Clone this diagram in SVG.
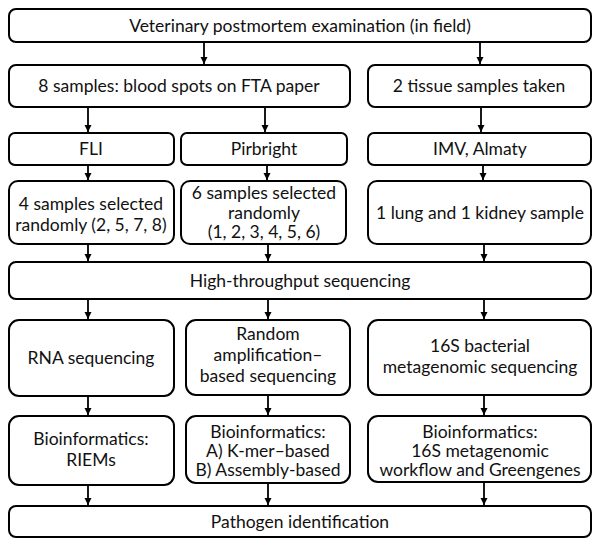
<svg xmlns="http://www.w3.org/2000/svg" width="600" height="545" viewBox="0 0 600 545">
<defs>
<style>
.b{fill:#fff;stroke:#000;stroke-width:2}
text{font-family:Lato,"Open Sans","Liberation Sans",sans-serif;font-size:17.5px;fill:#111;text-anchor:middle}
.c line{stroke:#000;stroke-width:1.8}
</style>
<marker id="ah" markerWidth="8" markerHeight="8" refX="7" refY="4" orient="auto" markerUnits="userSpaceOnUse">
<path d="M0,0.5 L7,4 L0,7.5 Z" fill="#000"/>
</marker>
</defs>
<rect width="600" height="545" fill="#fff"/>
<g id="n1"><rect class="b" x="9" y="9" width="582" height="33" rx="7"/><text x="300" y="32">Veterinary postmortem examination (in field)</text></g>
<g id="n2a"><rect class="b" x="9" y="65" width="341" height="42" rx="7"/><text x="179" y="92">8 samples: blood spots on FTA paper</text></g>
<g id="n2b"><rect class="b" x="368" y="65" width="223" height="42" rx="7"/><text x="479" y="92">2 tissue samples taken</text></g>
<g id="n3a"><rect class="b" x="9" y="133" width="165" height="32" rx="6"/><text x="91" y="155">FLI</text></g>
<g id="n3b"><rect class="b" x="181" y="133" width="166" height="32" rx="6"/><text x="264" y="155">Pirbright</text></g>
<g id="n3c"><rect class="b" x="368" y="133" width="223" height="32" rx="6"/><text x="480" y="155">IMV, Almaty</text></g>
<g id="n4a"><rect class="b" x="9" y="181" width="165" height="63" rx="9"/><text x="91" y="210">4 samples selected</text><text x="91" y="231">randomly (2, 5, 7, 8)</text></g>
<g id="n4b"><rect class="b" x="181" y="181" width="165" height="63" rx="9"/><text x="264" y="199">6 samples selected</text><text x="264" y="219">randomly</text><text x="264" y="238">(1, 2, 3, 4, 5, 6)</text></g>
<g id="n4c"><rect class="b" x="368" y="181" width="223" height="63" rx="9"/><text x="480" y="219">1 lung and 1 kidney sample</text></g>
<g id="n5"><rect class="b" x="9" y="262" width="582" height="37" rx="7"/><text x="300" y="287">High-throughput sequencing</text></g>
<g id="n6a"><rect class="b" x="9" y="320" width="165" height="76" rx="10"/><text x="91" y="364">RNA sequencing</text></g>
<g id="n6b"><rect class="b" x="186" y="320" width="164" height="75" rx="10"/><text x="268" y="340">Random</text><text x="268" y="361">amplification–</text><text x="268" y="382">based sequencing</text></g>
<g id="n6c"><rect class="b" x="368" y="320" width="223" height="75" rx="10"/><text x="480" y="352">16S bacterial</text><text x="480" y="373">metagenomic sequencing</text></g>
<g id="n7a"><rect class="b" x="9" y="416" width="165" height="69" rx="10"/><text x="91" y="445">Bioinformatics:</text><text x="91" y="466">RIEMs</text></g>
<g id="n7b"><rect class="b" x="186" y="416" width="164" height="67" rx="10"/><text x="268" y="438">Bioinformatics:</text><text x="268" y="457">A) K-mer–based</text><text x="268" y="476">B) Assembly-based</text></g>
<g id="n7c"><rect class="b" x="368" y="416" width="223" height="66" rx="10"/><text x="480" y="438">Bioinformatics:</text><text x="480" y="457">16S metagenomic</text><text x="480" y="476">workflow and Greengenes</text></g>
<g id="n8"><rect class="b" x="9" y="506" width="582" height="31" rx="7"/><text x="300" y="528">Pathogen identification</text></g>
<g class="c" id="connectors">
<line x1="204" y1="42" x2="204" y2="64" marker-end="url(#ah)"/>
<line x1="480" y1="42" x2="480" y2="64" marker-end="url(#ah)"/>
<line x1="88" y1="107" x2="88" y2="132" marker-end="url(#ah)"/>
<line x1="265" y1="107" x2="265" y2="132" marker-end="url(#ah)"/>
<line x1="481" y1="107" x2="481" y2="132" marker-end="url(#ah)"/>
<line x1="88" y1="165" x2="88" y2="180" marker-end="url(#ah)"/>
<line x1="267" y1="165" x2="267" y2="180" marker-end="url(#ah)"/>
<line x1="483" y1="165" x2="483" y2="180" marker-end="url(#ah)"/>
<line x1="88" y1="244" x2="88" y2="261" marker-end="url(#ah)"/>
<line x1="268" y1="244" x2="268" y2="261" marker-end="url(#ah)"/>
<line x1="484" y1="244" x2="484" y2="261" marker-end="url(#ah)"/>
<line x1="88" y1="299" x2="88" y2="319" marker-end="url(#ah)"/>
<line x1="268" y1="299" x2="268" y2="319" marker-end="url(#ah)"/>
<line x1="484" y1="299" x2="484" y2="319" marker-end="url(#ah)"/>
<line x1="88" y1="396" x2="88" y2="415" marker-end="url(#ah)"/>
<line x1="268" y1="395" x2="268" y2="415" marker-end="url(#ah)"/>
<line x1="484" y1="395" x2="484" y2="415" marker-end="url(#ah)"/>
<line x1="88" y1="485" x2="88" y2="505" marker-end="url(#ah)"/>
<line x1="268" y1="483" x2="268" y2="505" marker-end="url(#ah)"/>
<line x1="484" y1="482" x2="484" y2="505" marker-end="url(#ah)"/>
</g>
</svg>
